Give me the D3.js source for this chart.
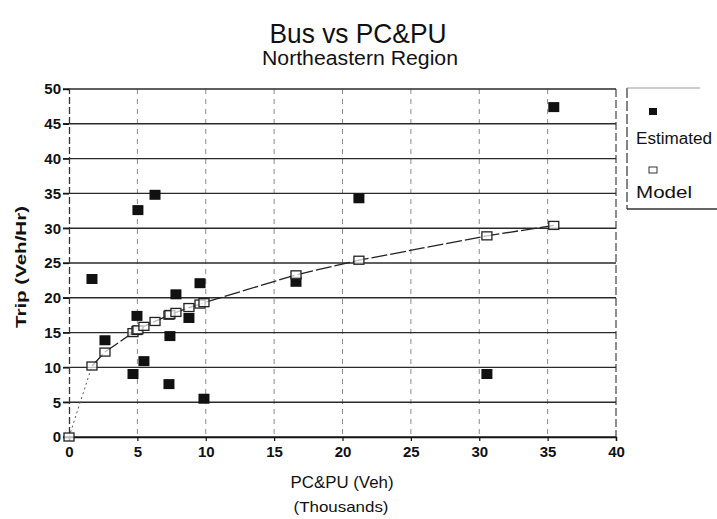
<!DOCTYPE html>
<html><head><meta charset="utf-8">
<script src="https://cdn.jsdelivr.net/npm/d3@7"></script>
<style>body{margin:0;background:#fff}svg{display:block}text{font-family:"Liberation Sans",Arial,sans-serif;fill:#111}</style>
</head><body><svg id="c" width="717" height="519"></svg>
<script>
// Data
const estX = [1.68, 2.63, 4.68, 4.97, 5.04, 5.48, 6.29, 7.31, 7.38, 7.82, 8.77, 9.58, 9.87, 16.6, 21.2, 30.56, 35.45];
const estY = [22.7, 13.9, 9.05, 17.4, 32.6, 10.9, 34.8, 7.6, 14.5, 20.5, 17.1, 22.1, 5.5, 22.3, 34.3, 9.05, 47.4];
const modelX = [0, 1.68, 2.63, 4.68, 4.97, 5.04, 5.48, 6.29, 7.31, 7.38, 7.82, 8.77, 9.58, 9.87, 16.6, 21.2, 30.56, 35.45];
const modelY = [0, 10.2, 12.2, 15.0, 15.3, 15.4, 15.9, 16.6, 17.5, 17.6, 17.9, 18.6, 19.1, 19.3, 23.3, 25.4, 28.9, 30.4];
const xTicks = [0, 5, 10, 15, 20, 25, 30, 35, 40];
const yTicks = [0, 5, 10, 15, 20, 25, 30, 35, 40, 45, 50];
const title = "Bus vs PC&PU", subtitle = "Northeastern Region";
const xLabel = "PC&PU (Veh)", xLabel2 = "(Thousands)", yLabel = "Trip (Veh/Hr)";
const legendNames = ["Estimated", "Model"];

const svg = d3.select("#c");
const x = d3.scaleLinear().domain([0, 40]).range([69, 616]);
const y = d3.scaleLinear().domain([0, 50]).range([437, 89]);
const ink = "#111";

// vertical dashed gridlines
svg.append("g").selectAll("line").data(xTicks.filter(d => d > 0 && d < 40)).join("line")
  .attr("x1", d => x(d)).attr("x2", d => x(d)).attr("y1", y(50)).attr("y2", y(0))
  .attr("stroke", "#8a8a8a").attr("stroke-width", 1).attr("stroke-dasharray", "5,5");
// right border
svg.append("line").attr("x1", x(40)).attr("x2", x(40)).attr("y1", y(50)).attr("y2", y(0))
  .attr("stroke", "#444").attr("stroke-width", 1.2).attr("stroke-dasharray", "8,3");
// horizontal gridlines
svg.append("g").selectAll("line").data(yTicks).join("line")
  .attr("x1", x(0) - 6).attr("x2", x(40)).attr("y1", d => y(d)).attr("y2", d => y(d))
  .attr("stroke", "#2a2a2a").attr("stroke-width", 1.4);

// y axis
const yAxis = svg.append("g").attr("transform", `translate(${x(0)},0)`)
  .call(d3.axisLeft(y).tickValues(yTicks).tickSize(6).tickPadding(2));
yAxis.select(".domain").attr("stroke", "#333").attr("stroke-width", 1.3).attr("stroke-dasharray", "7,3");
yAxis.selectAll(".tick line").attr("stroke", ink).attr("stroke-width", 1.3);
yAxis.selectAll(".tick text").attr("font-size", 15).attr("font-weight", "bold")
  .attr("font-family", "'Liberation Sans',Arial,sans-serif").attr("fill", ink);

// x axis
const xAxis = svg.append("g").attr("transform", `translate(0,${y(0)})`)
  .call(d3.axisBottom(x).tickValues(xTicks).tickSize(4).tickPadding(5));
xAxis.select(".domain").attr("stroke", ink).attr("stroke-width", 1.4);
xAxis.selectAll(".tick line").attr("stroke", ink).attr("stroke-width", 1.2);
xAxis.selectAll(".tick text").attr("font-size", 15).attr("font-weight", "bold")
  .attr("font-family", "'Liberation Sans',Arial,sans-serif").attr("fill", ink);

// model line
const model = modelX.map((v, i) => ({x: v, y: modelY[i]}));
const line = d3.line().x(d => x(d.x)).y(d => y(d.y));
svg.append("path").datum(model.slice(0, 2)).attr("d", line)
  .attr("fill", "none").attr("stroke", "#555").attr("stroke-width", 1).attr("stroke-dasharray", "2,3");
svg.append("path").datum(model.slice(1)).attr("d", line)
  .attr("fill", "none").attr("stroke", "#222").attr("stroke-width", 1.3).attr("stroke-dasharray", "16,3");

// estimated: filled squares
const est = estX.map((v, i) => ({x: v, y: estY[i]}));
svg.append("g").selectAll("rect").data(est).join("rect")
  .attr("x", d => x(d.x) - 5.5).attr("y", d => y(d.y) - 5).attr("width", 11).attr("height", 10)
  .attr("fill", "#111");
// model: open squares
svg.append("g").selectAll("rect").data(model).join("rect")
  .attr("x", d => x(d.x) - 5).attr("y", d => y(d.y) - 4).attr("width", 10).attr("height", 8)
  .attr("fill", "#fff").attr("fill-opacity", 0.7).attr("stroke", "#222").attr("stroke-width", 1.3);

// titles
svg.append("text").attr("x", 358).attr("y", 43).attr("text-anchor", "middle")
  .attr("font-size", 28).attr("textLength", 177).attr("lengthAdjust", "spacingAndGlyphs").text(title);
svg.append("text").attr("x", 360).attr("y", 65).attr("text-anchor", "middle")
  .attr("font-size", 20).attr("textLength", 196).attr("lengthAdjust", "spacingAndGlyphs").text(subtitle);
svg.append("text").attr("x", 342).attr("y", 488).attr("text-anchor", "middle")
  .attr("font-size", 16).attr("textLength", 103).attr("lengthAdjust", "spacingAndGlyphs").text(xLabel);
svg.append("text").attr("x", 341).attr("y", 512).attr("text-anchor", "middle")
  .attr("font-size", 15).attr("textLength", 95).attr("lengthAdjust", "spacingAndGlyphs").text(xLabel2);
svg.append("text").attr("transform", "translate(26,267) rotate(-90)").attr("text-anchor", "middle")
  .attr("font-size", 15).attr("font-weight", "bold").attr("textLength", 122).attr("lengthAdjust", "spacingAndGlyphs").text(yLabel);

// legend
const lg = svg.append("g");
lg.append("line").attr("x1", 627).attr("x2", 627).attr("y1", 88).attr("y2", 209)
  .attr("stroke", "#333").attr("stroke-width", 1.2).attr("stroke-dasharray", "10,3");
lg.append("line").attr("x1", 627).attr("x2", 717).attr("y1", 209).attr("y2", 209)
  .attr("stroke", "#333").attr("stroke-width", 1.4);
lg.append("line").attr("x1", 627).attr("x2", 700).attr("y1", 88).attr("y2", 88)
  .attr("stroke", "#999").attr("stroke-width", 1);
lg.append("rect").attr("x", 649).attr("y", 108).attr("width", 8).attr("height", 7).attr("fill", "#111");
lg.append("rect").attr("x", 649).attr("y", 167).attr("width", 8).attr("height", 6)
  .attr("fill", "#fff").attr("stroke", "#333").attr("stroke-width", 1);
lg.append("text").attr("x", 636).attr("y", 144).attr("font-size", 16)
  .attr("textLength", 76).attr("lengthAdjust", "spacingAndGlyphs").text(legendNames[0]);
lg.append("text").attr("x", 636).attr("y", 198).attr("font-size", 16)
  .attr("textLength", 56).attr("lengthAdjust", "spacingAndGlyphs").text(legendNames[1]);
</script></body></html>
